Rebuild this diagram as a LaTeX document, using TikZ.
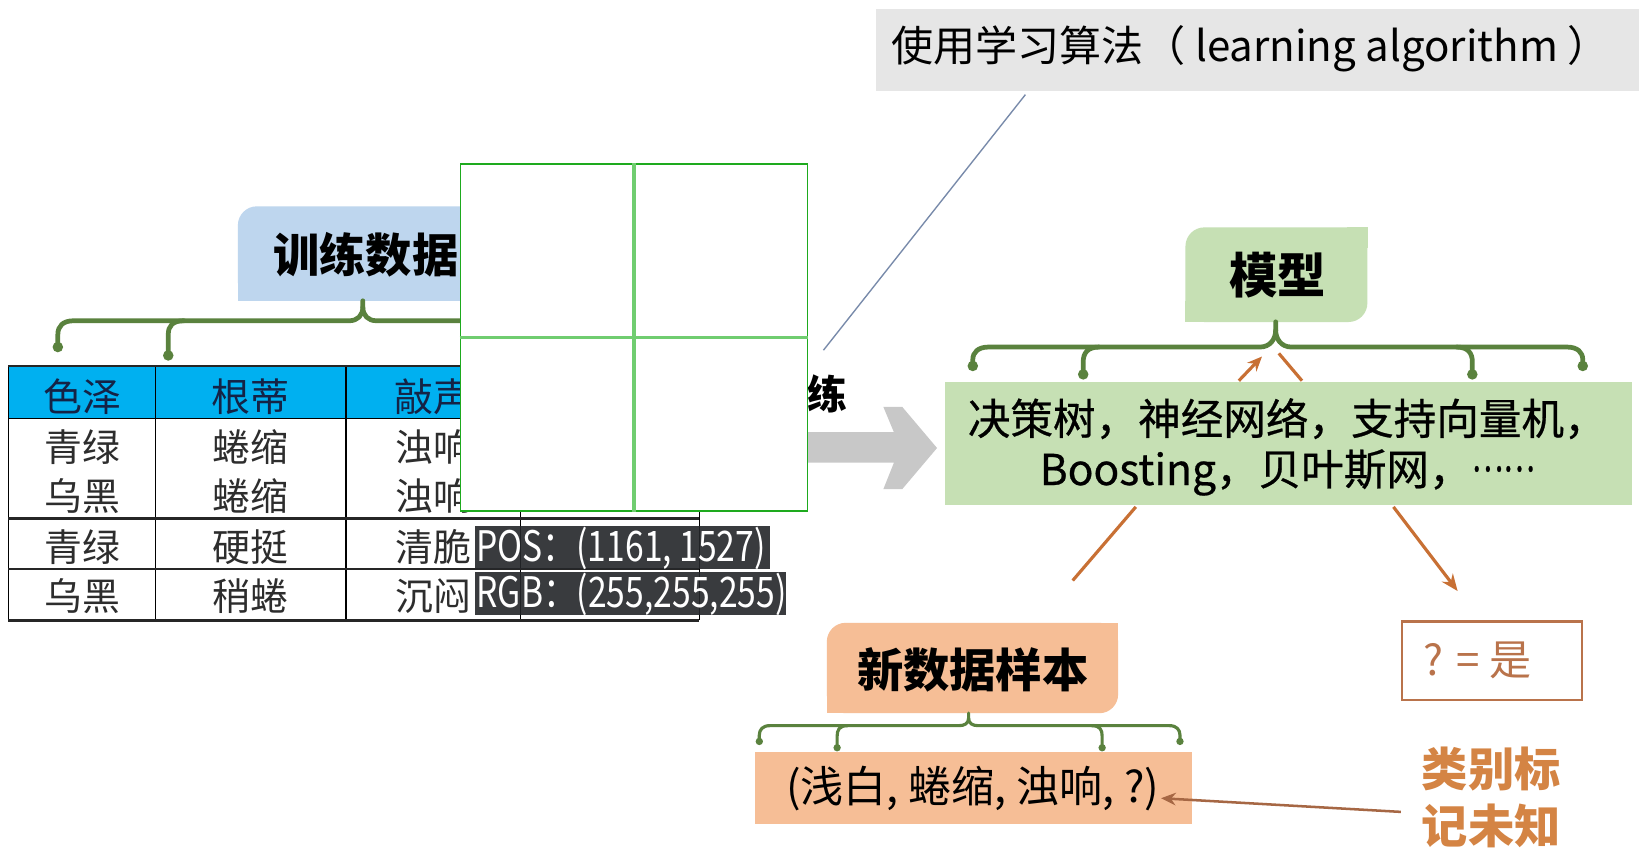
\documentclass[tikz,border=0pt]{standalone}
\usepackage{fontspec}
\newfontfamily\cjk{Noto Sans CJK SC}
\newfontfamily\cjkmed[FakeBold=0.6]{Noto Sans CJK SC}
\usetikzlibrary{arrows.meta}
\definecolor{titlegray}{RGB}{230,230,230}
\definecolor{tblue}{RGB}{190,214,238}
\definecolor{hdrblue}{RGB}{0,176,240}
\definecolor{mgreen}{RGB}{198,224,180}
\definecolor{peach}{RGB}{246,190,150}
\definecolor{brkgreen}{RGB}{90,130,62}
\definecolor{arrgray}{RGB}{200,200,200}
\definecolor{orng}{RGB}{200,112,52}
\definecolor{brown}{RGB}{185,115,75}
\definecolor{lbl}{RGB}{212,132,68}
\definecolor{thinblue}{RGB}{120,138,170}
\definecolor{pickgreen}{RGB}{30,170,30}
\definecolor{crossgreen}{RGB}{112,205,112}
\definecolor{darkbox}{RGB}{36,38,42}
\definecolor{hdrtext}{RGB}{20,35,70}
\definecolor{celltext}{RGB}{45,45,45}
\begin{document}
\begin{tikzpicture}[x=1pt,y=-1pt,
  box/.style={inner sep=0pt, anchor=north west},
  leaf/.style={box, rounded corners=18pt},
  txt/.style={inner sep=0pt, text=black},
  bigb/.style={txt, font=\cjk\bfseries\fontsize{44}{48}\selectfont},
  cell/.style={inner sep=0pt, text=celltext, font=\cjk\fontsize{36}{40}\selectfont},
  hcell/.style={inner sep=0pt, text=hdrtext, font=\cjk\fontsize{37}{40}\selectfont},
  brk/.style={draw=brkgreen, line width=4.5pt, line cap=round, line join=round},
  brks/.style={draw=brkgreen, line width=3pt, line cap=round, line join=round},
  tline/.style={draw=black, line width=1.5pt},
  rline/.style={draw=black!85, line width=2.6pt},
  oarr/.style={draw=orng, line width=3pt},
  pick/.style={inner sep=0pt, text=white, font=\cjk\fontsize{40}{44}\selectfont}
]
\fill[white] (0,0) rectangle (1568,816);
\useasboundingbox (0,0) rectangle (1568,816);

% ---------- title box ----------
\node[box, fill=titlegray, minimum width=725pt, minimum height=78pt] (alg) at (833,8) {};
\node[txt, font=\cjk\fontsize{40}{44}\selectfont] (algt) at (1189,46) {使用学习算法（ learning algorithm ）};
\coordinate (lnA) at (975,90);
\coordinate (lnB) at (783,333);
\draw[draw=thinblue, line width=1.3pt] (lnA) -- (lnB);

% ---------- training data label ----------
\node[leaf, fill=tblue, minimum width=250pt, minimum height=90pt] (train) at (226,196) {};
\fill[tblue] (train.south west) rectangle ([xshift=20pt,yshift=20pt]train.south west);
\node[bigb] (traint) at (348,242) {训练数据};
% bracket
\draw[brk] (345,286) -- (345,292) .. controls (345,300) and (340,305) .. (332,305) -- (70,305)
  .. controls (60,305) and (55,310) .. (55,318) -- (55,328);
\draw[brk] (345,292) .. controls (345,300) and (350,305) .. (358,305) -- (470,305);
\draw[brk] (175,305) .. controls (164,305) and (160,310) .. (160,318) -- (160,336);
\fill[brkgreen] (55,330) circle (5pt) (160,338) circle (5pt);

% ---------- table ----------
\fill[hdrblue] (8,348) rectangle (665,398);
\foreach \x in {8,148,329,495,665} \draw[tline] (\x,348) -- (\x,590);
\draw[rline] (8,348) -- (665,348);
\draw[tline] (8,398) -- (665,398);
\draw[rline] (8,493) -- (665,493);
\draw[rline] (8,541) -- (665,541);
\draw[rline] (8,590) -- (665,590);
\node[hcell] (h1) at (78,377) {色泽};
\node[hcell] (h2) at (238,377) {根蒂};
\node[hcell] (h3) at (412,377) {敲声};
\node[cell] (c11) at (78,425) {青绿};
\node[cell] (c12) at (238,425) {蜷缩};
\node[cell] (c13) at (412,425) {浊响};
\node[cell] (c21) at (78,472) {乌黑};
\node[cell] (c22) at (238,472) {蜷缩};
\node[cell] (c23) at (412,472) {浊响};
\node[cell] (c31) at (78,520) {青绿};
\node[cell] (c32) at (238,520) {硬挺};
\node[cell] (c33) at (412,520) {清脆};
\node[cell] (c41) at (78,567) {乌黑};
\node[cell] (c42) at (238,567) {稍蜷};
\node[cell] (c43) at (412,567) {沉闷};

% ---------- train arrow ----------
\node[txt, font=\cjk\bfseries\fontsize{38}{40}\selectfont] (lian) at (787,375) {练};
\fill[arrgray] (768,411) -- (850,411) -- (840,387) -- (858,387) -- (891,426) -- (858,465) -- (840,465) -- (850,440) -- (768,440) -- cycle;

% ---------- model ----------
\node[leaf, fill=mgreen, minimum width=173pt, minimum height=90pt] (model) at (1127,216) {};
\fill[mgreen] (model.north east) rectangle ([xshift=-20pt,yshift=-20pt]model.north east);
\fill[mgreen] (model.south west) rectangle ([xshift=20pt,yshift=20pt]model.south west);
\node[bigb, font=\cjk\bfseries\fontsize{46}{50}\selectfont] (modelt) at (1215,262) {模型};
\draw[brk] (1213,306) -- (1213,314) .. controls (1213,322) and (1208,330) .. (1198,330) -- (940,330)
  .. controls (930,330) and (925,335) .. (925,342) -- (925,346);
\draw[brk] (1213,314) .. controls (1213,322) and (1218,330) .. (1228,330) -- (1490,330)
  .. controls (1500,330) and (1505,335) .. (1505,342) -- (1505,346);
\draw[brk] (1045,330) .. controls (1034,330) and (1030,336) .. (1030,344) -- (1030,354);
\draw[brk] (1385,330) .. controls (1396,330) and (1400,336) .. (1400,344) -- (1400,354);
\fill[brkgreen] (925,348) circle (5pt) (1030,356) circle (5pt) (1400,356) circle (5pt) (1505,348) circle (5pt);

\node[box, fill=mgreen, minimum width=654pt, minimum height=117pt] (algs) at (898,363) {};
\node[txt, align=center, font=\cjkmed\fontsize{40.5}{48}\selectfont] (algst) at (1224,425) {决策树，神经网络，支持向量机，\\Boosting，贝叶斯网，\raisebox{0.32em}[0pt][0pt]{\scalebox{0.7}[1]{……}}};

\coordinate (o1a) at (1178,362);
\coordinate (o1b) at (1200,339);
\coordinate (o2a) at (1216,336);
\coordinate (o2b) at (1238,362);
\draw[oarr, -{Stealth[length=14pt,width=12pt]}] (o1a) -- (o1b);
\draw[oarr] (o2a) -- (o2b);

% ---------- new sample ----------
\node[leaf, fill=peach, minimum width=277pt, minimum height=86pt] (new) at (786,592) {};
\fill[peach] (new.north east) rectangle ([xshift=-20pt,yshift=-20pt]new.north east);
\fill[peach] (new.south west) rectangle ([xshift=20pt,yshift=20pt]new.south west);
\node[bigb] (newt) at (925,637) {新数据样本};
\draw[brks] (921,678) -- (921,683) .. controls (921,688) and (917,690) .. (912,690) -- (732,690)
  .. controls (725,690) and (722,694) .. (722,699) -- (722,703);
\draw[brks] (921,683) .. controls (921,688) and (925,690) .. (930,690) -- (1112,690)
  .. controls (1119,690) and (1122,694) .. (1122,699) -- (1122,703);
\draw[brks] (806,690) .. controls (798,690) and (796,694) .. (796,700) -- (796,708);
\draw[brks] (1038,690) .. controls (1046,690) and (1048,694) .. (1048,700) -- (1048,708);
\fill[brkgreen] (722,705) circle (3.5pt) (796,711) circle (3.5pt) (1048,711) circle (3.5pt) (1122,705) circle (3.5pt);

\node[box, fill=peach, minimum width=415pt, minimum height=68pt] (samp) at (718,715) {};
\node[txt, font=\cjk\fontsize{41}{44}\selectfont] (sampt) at (925,750) {(浅白, 蜷缩, 浊响, ?)};

% ---------- result ----------
\node[box, draw=brown, line width=2pt, fill=white, minimum width=171pt, minimum height=75pt] (res) at (1332,590) {};
\node[txt, text=brown, font=\cjk\fontsize{40}{44}\selectfont] (rest) at (1405,628) {? = 是};

\coordinate (d1a) at (1080,482);
\coordinate (d1b) at (1020,552);
\coordinate (d2a) at (1325,482);
\coordinate (d2b) at (1386,562);
\draw[oarr] (d1a) -- (d1b);
\draw[oarr, -{Stealth[length=16pt,width=13pt]}] (d2a) -- (d2b);

\node[txt, text=lbl, align=center, font=\cjk\bfseries\fontsize{44}{54}\selectfont] (unk) at (1418,758) {类别标\\记未知};
\coordinate (ua) at (1332,772);
\coordinate (ub) at (1104,759);
\draw[draw=brown!90!black, line width=2.4pt, -{Stealth[length=14pt,width=12pt]}] (ua) -- (ub);

% ---------- colour picker overlay ----------
\node[box, fill=white, draw=pickgreen, line width=1.6pt, minimum width=330pt, minimum height=330pt] (pickbox) at (437,155) {};
\draw[crossgreen, line width=3pt] (pickbox.north) -- (pickbox.south);
\draw[crossgreen, line width=3pt] (pickbox.west) -- (pickbox.east);
\node[box, fill=darkbox, fill opacity=0.9, text opacity=1, minimum width=281pt, minimum height=41pt] (posb) at (451,500) {};
\node[pick, anchor=west] (post) at (453,521) {\scalebox{0.8}[1]{POS：(1161, 1527)}};
\node[box, fill=darkbox, fill opacity=0.9, text opacity=1, minimum width=296pt, minimum height=41pt] (rgbb) at (451,544) {};
\node[pick, anchor=west] (rgbt) at (453,565) {\scalebox{0.8}[1]{RGB：(255,255,255)}};
\end{tikzpicture}
\end{document}
